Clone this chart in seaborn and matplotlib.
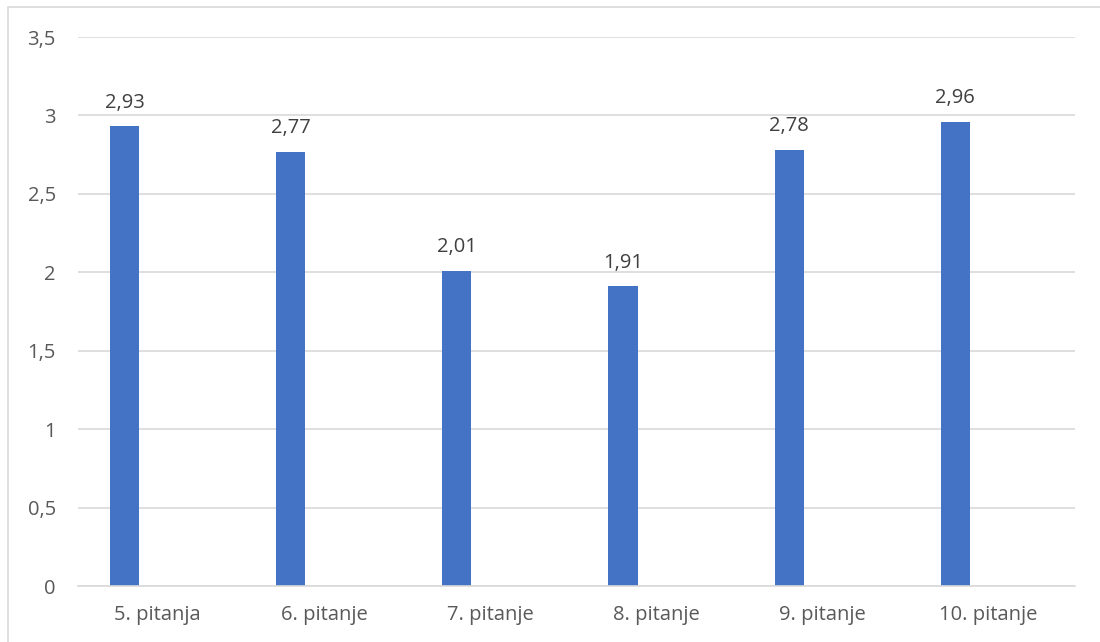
import matplotlib
matplotlib.use("Agg")
import matplotlib.pyplot as plt
import seaborn as sns
import numpy as np
import pandas as pd
from matplotlib.patches import Rectangle

# Average score per question
categories = ["5. pitanja", "6. pitanje", "7. pitanje", "8. pitanje", "9. pitanje", "10. pitanje"]
values = [2.93, 2.77, 2.01, 1.91, 2.78, 2.96]
y_ticks = [0, 0.5, 1, 1.5, 2, 2.5, 3, 3.5]

sns.set_theme(style="white")
plt.rcParams["font.family"] = ["Open Sans", "DejaVu Sans"]

BAR_COLOR = "#4472C4"
GRID_COLOR = "#D9D9D9"
TICK_COLOR = "#595959"
LABEL_COLOR = "#404040"
FONT_SIZE = 14.5

fig = plt.figure(figsize=(11, 6.42), dpi=100)
W, H = 1100, 642
ax = fig.add_axes([78 / W, (H - 586) / H, (1075 - 78) / W, (586 - 37) / H])

# Each bar sits on the left part of its category slot
slot = np.arange(len(categories))
df = pd.DataFrame({"pos": slot - 0.22, "value": values})
sns.barplot(data=df, x="pos", y="value", native_scale=True, width=0.175,
            color=BAR_COLOR, saturation=1, ax=ax, linewidth=0)

ax.set_xlim(-0.5, len(categories) - 0.5)
ax.set_ylim(0, 3.5)
ax.set_xticks(slot - 0.02)
ax.set_xticklabels(categories)
ax.set_yticks(y_ticks)
ax.set_yticklabels([f"{t:g}".replace(".", ",") for t in y_ticks])
ax.set_xlabel("")
ax.set_ylabel("")

ax.yaxis.grid(True, color=GRID_COLOR, linewidth=1.2)
ax.set_axisbelow(True)
for side in ["top", "right", "left"]:
    ax.spines[side].set_visible(False)
ax.spines["bottom"].set_color(GRID_COLOR)
ax.spines["bottom"].set_linewidth(1.2)

ax.tick_params(axis="both", length=0, labelsize=FONT_SIZE, labelcolor=TICK_COLOR)
ax.tick_params(axis="x", pad=14)
ax.tick_params(axis="y", pad=16)

for x, v in zip(df["pos"], values):
    ax.annotate(f"{v:.2f}".replace(".", ","), xy=(x, v), xytext=(0, 10),
                textcoords="offset points", ha="center", va="bottom",
                fontsize=FONT_SIZE, color=LABEL_COLOR)

# Chart area frame
fig.patches.append(Rectangle((8 / W, -0.1), 1.2, (H - 7) / H + 0.1,
                             transform=fig.transFigure, fill=False,
                             edgecolor=GRID_COLOR, linewidth=1.2, zorder=0))

fig.savefig("out.png", dpi=100, facecolor="white")
